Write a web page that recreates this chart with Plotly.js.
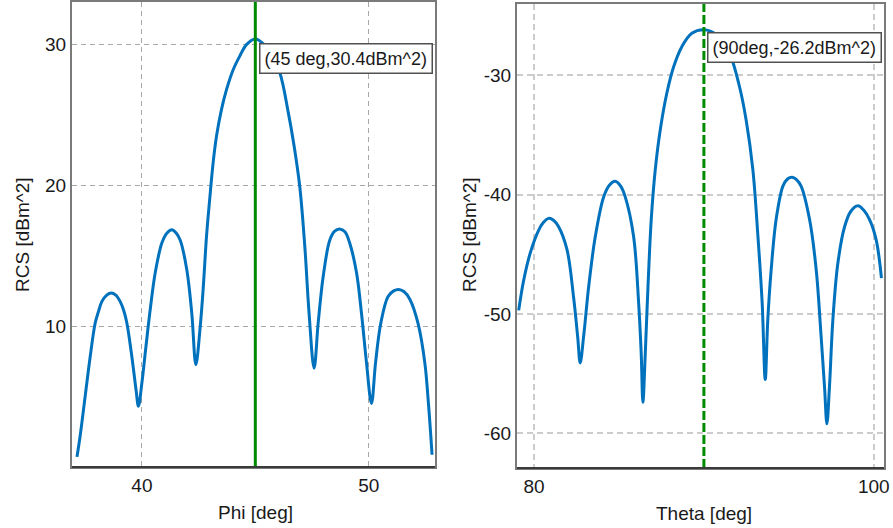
<!DOCTYPE html>
<html>
<head>
<meta charset="utf-8">
<script src="https://cdn.plot.ly/plotly-3.0.1.min.js"></script>
<style>html,body{margin:0;padding:0;background:#fff;}#chart{width:893px;height:528px;}</style>
</head>
<body>
<div id="chart"></div>
<script>
// ---- Left panel: RCS vs Phi ----
const phiDeg = [37.14, 37.28, 37.50, 37.72, 37.94, 38.10, 38.24, 38.45, 38.65, 38.85, 39.04, 39.20, 39.34, 39.56, 39.74, 39.85, 40.00, 40.18, 40.37, 40.59, 40.88, 41.10, 41.32, 41.52, 41.69, 41.98, 42.20, 42.38, 42.56, 42.70, 42.85, 43.00, 43.14, 43.29, 43.51, 43.73, 44.02, 44.32, 44.61, 45.00, 45.39, 45.64, 46.08, 46.45, 46.71, 46.96, 47.18, 47.37, 47.59, 47.77, 47.99, 48.28, 48.50, 48.72, 48.95, 49.16, 49.46, 49.68, 49.90, 50.12, 50.30, 50.53, 50.85, 51.10, 51.32, 51.55, 51.81, 52.17, 52.47, 52.64, 52.79];
const rcsPhi = [0.7, 2.2, 5.0, 7.8, 10.2, 11.1, 11.75, 12.2, 12.35, 12.2, 11.75, 11.1, 10.2, 7.8, 5.5, 4.3, 5.95, 8.55, 11.2, 13.8, 15.9, 16.6, 16.85, 16.6, 16.1, 14.0, 10.9, 7.25, 9.75, 12.6, 16.4, 19.2, 21.6, 23.5, 25.4, 26.8, 28.2, 29.2, 30.0, 30.4, 30.0, 29.5, 28.0, 25.2, 22.8, 19.9, 15.7, 10.9, 7.0, 10.2, 13.5, 16.1, 16.75, 16.9, 16.7, 15.9, 13.8, 10.9, 7.4, 4.5, 7.4, 10.2, 12.1, 12.5, 12.6, 12.45, 11.9, 10.2, 7.4, 4.3, 0.85];
const phiTicks = [40, 50];
const rcsPhiTicks = [10, 20, 30];
const phiMarker = 45;
const phiMarkerValue = 30.4;
const phiMarkerLabel = "(45 deg,30.4dBm^2)";

// ---- Right panel: RCS vs Theta ----
const thetaDeg = [79.1, 79.39, 79.78, 80.27, 80.55, 80.86, 81.15, 81.45, 81.94, 82.33, 82.57, 82.72, 82.92, 83.22, 83.61, 84.1, 84.45, 84.78, 85.1, 85.37, 85.86, 86.16, 86.31, 86.41, 86.55, 86.71, 86.9, 87.14, 87.43, 87.82, 88.22, 88.71, 89.29, 90.0, 90.72, 91.51, 92.1, 92.49, 92.88, 93.18, 93.43, 93.61, 93.76, 93.96, 94.25, 94.65, 94.92, 95.19, 95.45, 95.72, 96.22, 96.61, 96.9, 97.1, 97.24, 97.39, 97.59, 97.88, 98.28, 98.65, 99.06, 99.4, 99.75, 100.14, 100.45];
const rcsTheta = [-49.7, -47.2, -44.9, -43.0, -42.35, -42.0, -42.15, -42.7, -44.6, -48.6, -51.9, -54.1, -51.9, -47.7, -43.5, -40.2, -39.2, -38.9, -39.3, -40.2, -43.5, -49.1, -53.3, -57.4, -53.3, -47.7, -42.1, -37.9, -34.6, -31.5, -29.3, -27.6, -26.5, -26.2, -26.6, -28.2, -31.0, -33.8, -37.9, -43.5, -49.1, -55.5, -50.5, -46.3, -42.1, -39.3, -38.7, -38.55, -38.75, -39.3, -42.1, -46.3, -51.9, -56.1, -59.2, -56.1, -50.5, -45.8, -42.7, -41.4, -40.95, -41.3, -42.1, -43.8, -47.0];
const thetaTicks = [80, 100];
const rcsThetaTicks = [-30, -40, -50, -60];
const rcsThetaTickText = ["-30", "-40", "-50", "-60"];
const thetaMarker = 90;
const thetaMarkerValue = -26.2;
const thetaMarkerLabel = "(90deg,-26.2dBm^2)";

// axis title texts
const phiTitle = "Phi [deg]";
const thetaTitle = "Theta [deg]";
const rcsTitle = "RCS [dBm^2]";

const FONT = "Liberation Sans, Arial, sans-serif";
const TXT = "#1a1a1a";
const lineBlue = "#0072BD";
const frame = "#7a7a7a";
const W = 893, H = 528;

const traces = [
  {x: phiDeg, y: rcsPhi, type: "scatter", mode: "lines", xaxis: "x", yaxis: "y",
   line: {color: lineBlue, width: 3, shape: "spline", smoothing: 1.0}, hoverinfo: "skip"},
  {x: thetaDeg, y: rcsTheta, type: "scatter", mode: "lines", xaxis: "x2", yaxis: "y2",
   line: {color: lineBlue, width: 3, shape: "spline", smoothing: 1.0}, hoverinfo: "skip"}
];

const axCommon = {
  showline: true, linecolor: frame, linewidth: 2, mirror: true,
  ticks: "", zeroline: false, showgrid: true,
  tickfont: {family: FONT, size: 19, color: TXT},
  fixedrange: true
};

function ann(text, px, py, rot) {
  return {xref: "paper", yref: "paper", x: px / W, y: 1 - py / H, xanchor: "center", yanchor: "middle",
          showarrow: false, text: text, textangle: rot || 0,
          font: {family: FONT, size: 19, color: TXT}};
}

const layout = {
  width: W, height: H,
  margin: {l: 0, r: 0, t: 0, b: 0},
  paper_bgcolor: "#ffffff", plot_bgcolor: "#ffffff",
  showlegend: false,
  font: {family: FONT, size: 19, color: TXT},
  xaxis: Object.assign({}, axCommon, {
    domain: [72/W, 435/W], anchor: "y", range: [36.92, 52.92],
    tickvals: phiTicks, gridcolor: "#a8a8a8", gridwidth: 1, griddash: "5px,4px"
  }),
  yaxis: Object.assign({}, axCommon, {
    domain: [1 - 467/H, 1 - 2/H], anchor: "x", range: [-0.02, 33.03],
    tickvals: rcsPhiTicks, gridcolor: "#a8a8a8", gridwidth: 1, griddash: "5px,4px"
  }),
  xaxis2: Object.assign({}, axCommon, {
    domain: [517/W, 884/W], anchor: "y2", range: [79.0, 100.6],
    tickvals: thetaTicks, gridcolor: "#cccccc", gridwidth: 2, griddash: "6px,4px"
  }),
  yaxis2: Object.assign({}, axCommon, {
    domain: [1 - 468/H, 1 - 4/H], anchor: "x2", range: [-62.9, -24.05],
    tickvals: rcsThetaTicks, ticktext: rcsThetaTickText,
    gridcolor: "#cccccc", gridwidth: 2, griddash: "6px,4px"
  }),
  shapes: [
    {type: "line", xref: "x", yref: "y domain", x0: phiMarker, x1: phiMarker, y0: 0, y1: 1,
     line: {color: "#008a00", width: 3}},
    {type: "line", xref: "x2", yref: "y2 domain", x0: thetaMarker, x1: thetaMarker, y0: 0, y1: 1,
     line: {color: "#008a00", width: 3, dash: "9px,3px"}},
    {type: "line", xref: "x domain", yref: "y domain", x0: 0, x1: 1, y0: 0, y1: 0,
     line: {color: "#3a3a3a", width: 2}},
    {type: "line", xref: "x2 domain", yref: "y2 domain", x0: 0, x1: 1, y0: 0, y1: 0,
     line: {color: "#3a3a3a", width: 2}}
  ],
  annotations: [
    {xref: "x", yref: "y", x: phiMarker, y: phiMarkerValue, xanchor: "left", yanchor: "top",
     xshift: 4, yshift: -4, showarrow: false, text: phiMarkerLabel,
     font: {family: FONT, size: 18, color: TXT},
     bgcolor: "#ffffff", bordercolor: "#505050", borderwidth: 1.5, borderpad: 4},
    {xref: "x2", yref: "y2", x: thetaMarker, y: thetaMarkerValue, xanchor: "left", yanchor: "top",
     xshift: 3, yshift: -2, showarrow: false, text: thetaMarkerLabel,
     font: {family: FONT, size: 18, color: TXT},
     bgcolor: "#ffffff", bordercolor: "#505050", borderwidth: 1.5, borderpad: 4},
    ann(phiTitle, 255, 512),
    ann(thetaTitle, 704, 513),
    ann(rcsTitle, 22, 235, -90),
    ann(rcsTitle, 469, 235, -90)
  ]
};

Plotly.newPlot("chart", traces, layout, {displayModeBar: false, staticPlot: true});
</script>
</body>
</html>
